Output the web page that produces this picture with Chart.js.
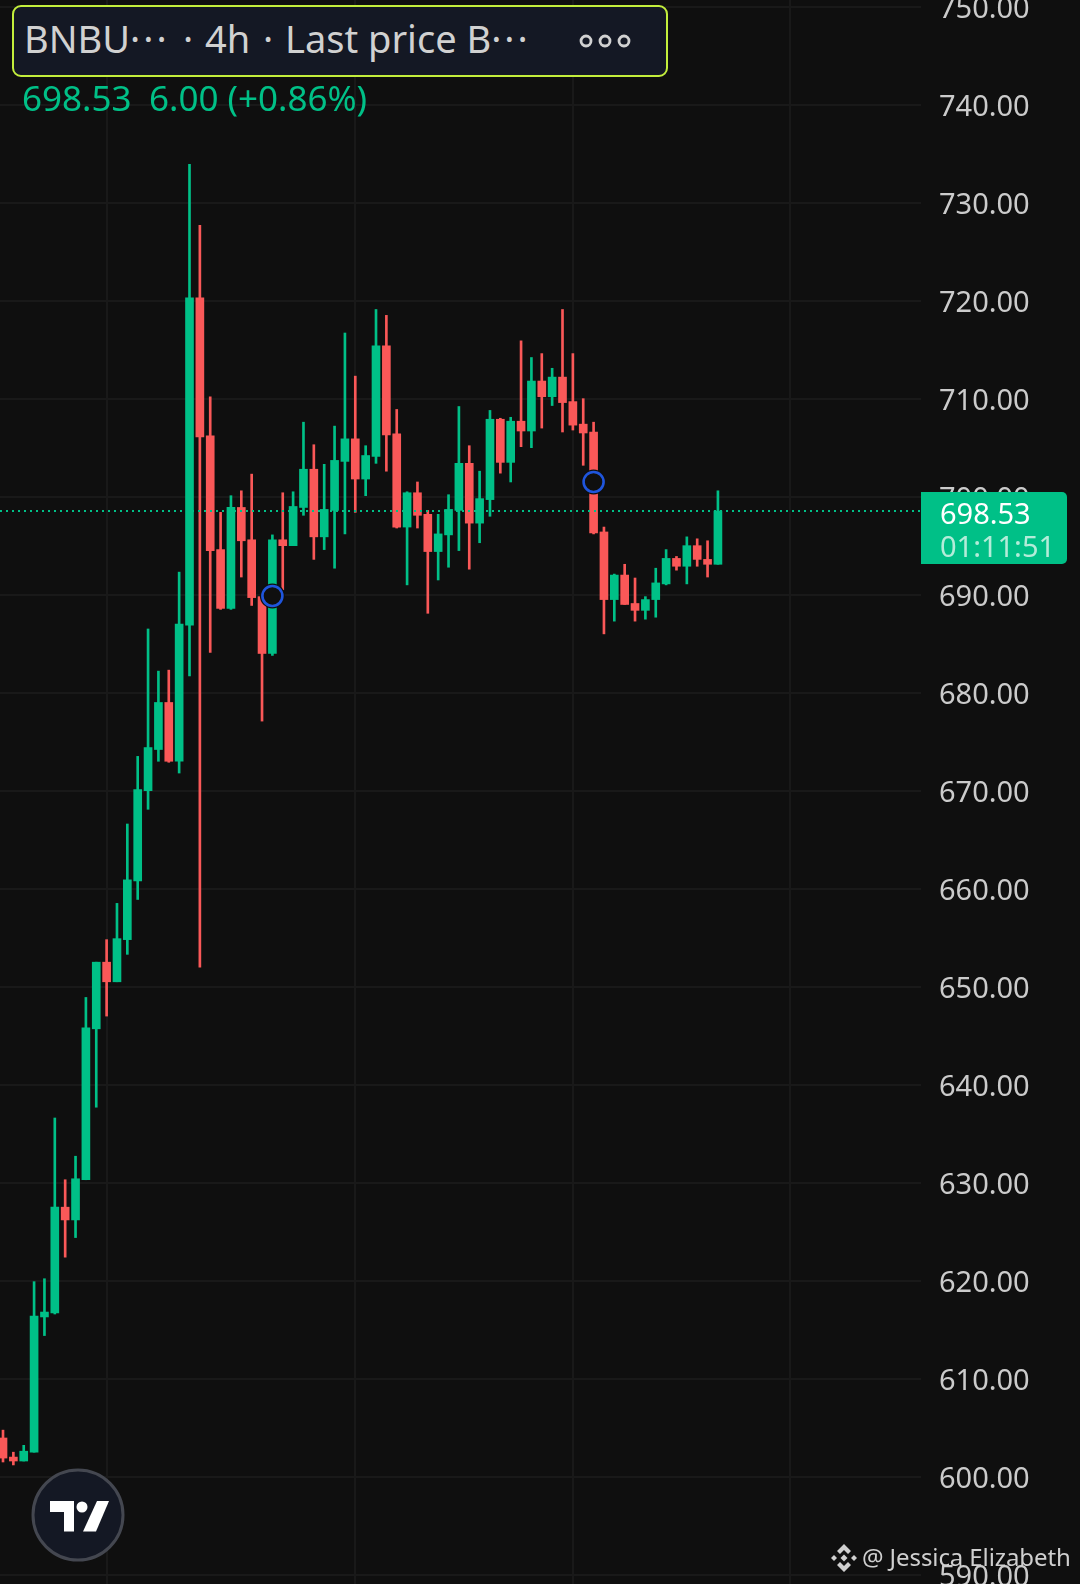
<!DOCTYPE html>
<html><head><meta charset="utf-8">
<script src="https://cdn.jsdelivr.net/npm/chart.js@4"></script>
<style>
html,body{margin:0;padding:0;background:#0f0f0f;width:1080px;height:1584px;overflow:hidden}
#wrap{position:relative;width:1080px;height:1584px;font-family:"Noto Sans",sans-serif}
canvas{position:absolute;left:0;top:0}
.t{position:absolute;white-space:pre;line-height:1}
#head{position:absolute;left:12px;top:5px;width:652px;height:68px;background:#141824;border:2px solid #c3ee3c;border-radius:9px}
#tag{position:absolute;left:921px;top:492px;width:146px;height:72px;background:#00c087;border-radius:0 5px 5px 0}
</style></head><body><div id="wrap">
<canvas id="c" width="1080" height="1584"></canvas>
<div id="head"></div>
<div class="t" style="left:24px;top:19px;font-size:38px;color:#d1d1d1">BNBU<span style="letter-spacing:3px">···</span></div>
<div class="t" style="left:183px;top:19px;font-size:38px;color:#d1d1d1">·</div>
<div class="t" style="left:205px;top:19px;font-size:38px;color:#d1d1d1">4h</div>
<div class="t" style="left:263px;top:19px;font-size:38px;color:#d1d1d1">·</div>
<div class="t" style="left:285px;top:19px;font-size:38px;color:#d1d1d1">Last price B<span style="letter-spacing:3px">···</span></div>
<svg style="position:absolute;left:575px;top:30px" width="60" height="22"><g fill="none" stroke="#d1d1d1" stroke-width="2.8"><circle cx="11" cy="11" r="5"/><circle cx="30" cy="11" r="5"/><circle cx="49" cy="11" r="5"/></g></svg>
<div class="t" style="left:22px;top:80px;font-size:35px;color:#00c087">698.53</div>
<div class="t" style="left:149px;top:80px;font-size:35px;color:#00c087">6.00 (+0.86%)</div>
<div id="tag"></div>
<div class="t" style="left:940px;top:498px;font-size:29px;color:#ffffff">698.53</div>
<div class="t" style="left:940px;top:531px;font-size:29px;color:#b3ecd9">01:11:51</div>
<svg style="position:absolute;left:30px;top:1467px" width="96" height="96">
<circle cx="48" cy="48" r="45" fill="#141824" stroke="#444750" stroke-width="3"/>
<path fill="#fff" d="M20 34H44V64.500H34V45H20Z"/><circle cx="52" cy="40" r="5.500" fill="#fff"/>
<path fill="#fff" d="M67 34H79L66 64.500H53Z"/></svg>
<svg style="position:absolute;left:830px;top:1544px" width="28" height="28" viewBox="0 0 28 28"><g fill="#cfcfcf">
<path d="M14 0l7 7-3 3-4-4-4 4-3-3z"/><path d="M14 28l7-7-3-3-4 4-4-4-3 3z"/>
<path d="M14 10.500l3.500 3.500-3.500 3.500-3.500-3.500z"/><path d="M4 11l3 3-3 3-3-3z"/><path d="M24 11l3 3-3 3-3-3z"/></g></svg>
<div class="t" style="left:862px;top:1545px;font-size:24px;color:#cfcfcf;letter-spacing:-0.1px">@ Jessica Elizabeth</div>
</div>
<script>
const categories=[...Array(70).keys()];
const opens=[603.95,602.0,601.6,602.5,616.3,616.7,627.5,626.2,630.3,645.7,652.5,650.5,654.8,660.8,670.0,674.2,679.0,673.0,686.9,720.3,706.2,694.6,688.6,698.9,695.6,689.8,684.0,695.6,695.0,698.9,702.8,695.9,698.6,703.6,705.9,701.8,704.1,715.4,706.4,696.9,700.4,698.2,694.4,696.1,698.6,703.4,697.3,699.7,707.9,703.5,707.7,706.7,711.8,710.2,712.2,709.7,707.4,706.6,696.4,689.5,692.0,689.1,688.4,689.5,691.1,693.7,692.9,695.0,693.6,693.1];
const highs=[604.75,602.5,603.2,619.9,620.2,636.6,630.3,632.7,648.9,652.5,654.8,658.5,666.6,673.5,686.5,682.2,682.3,692.3,733.9,727.7,710.2,698.4,700.1,700.6,702.3,690.0,696.1,700.4,700.5,707.6,705.3,703.3,707.2,716.7,712.3,705.2,719.1,718.5,708.9,700.5,701.5,698.6,698.2,700.2,709.2,705.2,702.6,708.8,708.0,708.1,715.9,714.2,714.6,713.1,719.1,714.6,710.0,707.6,696.9,692.1,693.1,691.7,689.8,692.7,694.6,693.9,695.9,695.7,695.5,700.6];
const lows=[601.5,601.2,601.6,602.5,614.4,616.6,622.4,624.4,630.3,637.7,647.0,650.5,653.3,658.9,668.1,673.0,672.9,671.8,681.7,652.0,684.1,688.5,688.5,691.8,688.9,677.1,683.8,690.5,695.0,698.1,693.6,694.6,692.7,696.2,698.4,700.1,703.4,702.6,696.8,691.0,696.8,688.1,691.5,692.8,694.5,692.6,695.3,698.0,702.4,701.5,705.1,705.0,707.0,709.3,706.6,706.8,703.2,696.2,686.0,687.3,689.0,687.3,687.5,687.7,691.0,692.5,691.1,692.9,691.8,693.1];
const closes=[601.9,601.6,602.6,616.4,616.8,627.5,626.2,630.4,645.8,652.5,650.5,654.9,660.9,670.1,674.4,679.0,673.0,687.0,720.3,706.1,694.5,688.6,698.9,695.5,689.7,684.0,695.6,695.0,699.0,702.8,695.9,698.7,703.7,705.9,701.8,704.2,715.4,706.3,696.9,700.4,698.1,694.4,696.2,698.7,703.4,697.3,699.8,707.9,703.5,707.7,706.7,711.8,710.2,712.2,709.6,707.3,706.5,696.3,689.5,692.0,689.0,688.4,689.5,691.2,693.7,692.9,695.0,693.6,693.1,698.53];
const priceTicks=[590,600,610,620,630,640,650,660,670,680,690,700,710,720,730,740,750];
const timeGridAt=[10,34,55,76];
const lastPrice=698.53;
const markerIdx=[26,57];
const markerVals=[689.87,701.5];
const GREEN='#00c087',RED='#fa5858',BG='#0f0f0f',GRID='#191919';
const X_MIN=-0.29,X_MAX=88.6;
const colours=categories.map(i=>closes[i]>=opens[i]?GREEN:RED);
const markers=markerIdx.map((x,k)=>({x,y:markerVals[k]}));
new Chart(document.getElementById('c').getContext('2d'),{
 type:'bar',
 data:{datasets:[
  {type:'line',order:0,data:markers,showLine:false,pointRadius:10,pointHoverRadius:10,pointBackgroundColor:BG,pointBorderColor:'#1f55dc',pointBorderWidth:2.6},
  {type:'line',order:1,data:markers,showLine:false,pointRadius:12.5,pointHoverRadius:12.5,pointBackgroundColor:BG,pointBorderColor:BG,pointBorderWidth:0},
  {type:'line',order:2,data:[{x:X_MIN,y:lastPrice},{x:X_MAX,y:lastPrice}],borderColor:GREEN,borderWidth:2,borderDash:[2,4],pointRadius:0,fill:false},
  {label:'body',order:3,data:categories.map(i=>({x:i,y:[opens[i],closes[i]]})),backgroundColor:colours,barThickness:8,grouped:false,borderWidth:0},
  {label:'wick',order:4,data:categories.map(i=>({x:i,y:[lows[i],highs[i]]})),backgroundColor:colours,barThickness:2,grouped:false,borderWidth:0}
 ]},
 options:{
  responsive:false,animation:false,devicePixelRatio:1,events:[],
  layout:{padding:0,autoPadding:false},
  plugins:{legend:{display:false},tooltip:{enabled:false},title:{display:false}},
  scales:{
   x:{type:'linear',offset:false,min:X_MIN,max:X_MAX,display:true,
      grid:{color:GRID,lineWidth:2,drawTicks:false,offset:false},border:{display:false},
      ticks:{display:false},
      afterBuildTicks:s=>{s.ticks=timeGridAt.map(v=>({value:v}));},
      afterFit:s=>{s.height=0;s.paddingLeft=0;s.paddingRight=0;}},
   y:{type:'linear',position:'right',min:589.05,max:750.68,
      grid:{color:GRID,lineWidth:2,drawTicks:false},border:{display:false},
      ticks:{color:'#cbcbcb',font:{family:'"Noto Sans"',size:29},padding:18,labelOffset:3,crossAlign:'near',autoSkip:false,
             callback:v=>v.toFixed(2)},
      afterBuildTicks:s=>{s.ticks=priceTicks.map(v=>({value:v}));},
      afterFit:s=>{s.width=159;s.paddingTop=0;s.paddingBottom=0;}}
  }
 }
});
</script></body></html>
